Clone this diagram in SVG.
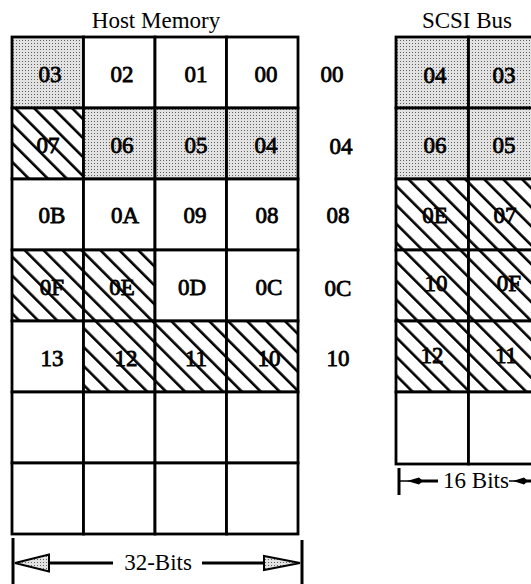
<svg xmlns="http://www.w3.org/2000/svg" width="531" height="584" viewBox="0 0 531 584">
<defs>
<pattern id="dots" width="3" height="3" patternUnits="userSpaceOnUse">
<rect width="3" height="3" fill="#e2e2e2"/>
<rect x="1" y="1" width="1" height="1" fill="#606060"/>
</pattern>
<pattern id="hatch" width="13.4" height="13.4" patternUnits="userSpaceOnUse" patternTransform="rotate(-45)">
<rect width="13.4" height="13.4" fill="#fff"/>
<rect x="0" y="0" width="2.6" height="13.4" fill="#000"/>
</pattern>
</defs>
<style>
.c{stroke:#000;stroke-width:2.8}
.w{fill:#fff}
.s{fill:url(#dots)}
.h{fill:url(#hatch)}
text{font-family:"Liberation Serif","Times New Roman",serif;font-size:23px;fill:#000;text-anchor:middle}
.n{stroke:#000;stroke-width:0.8}
.ln{stroke:#000;fill:none}
</style>
<rect width="531" height="584" fill="#fff"/>

<text id="title-host" x="156" y="28">Host Memory</text>
<text id="title-scsi" x="467" y="28">SCSI Bus</text>

<g id="h03"><rect class="c s" x="12" y="37" width="71.5" height="71"/><text class="n" x="50" y="82">03</text></g>
<g id="h02"><rect class="c w" x="83.5" y="37" width="71.5" height="71"/><text class="n" x="122" y="82">02</text></g>
<g id="h01"><rect class="c w" x="155" y="37" width="71.5" height="71"/><text class="n" x="196" y="82">01</text></g>
<g id="h00"><rect class="c w" x="226.5" y="37" width="71.5" height="71"/><text class="n" x="266" y="82">00</text></g>

<g id="h07"><rect class="c h" x="12" y="108" width="71.5" height="71"/><text class="n" x="48" y="153">07</text></g>
<g id="h06"><rect class="c s" x="83.5" y="108" width="71.5" height="71"/><text class="n" x="122" y="153">06</text></g>
<g id="h05"><rect class="c s" x="155" y="108" width="71.5" height="71"/><text class="n" x="196" y="153">05</text></g>
<g id="h04"><rect class="c s" x="226.5" y="108" width="71.5" height="71"/><text class="n" x="266" y="153">04</text></g>

<g id="h0B"><rect class="c w" x="12" y="179" width="71.5" height="71"/><text class="n" x="52" y="223">0B</text></g>
<g id="h0A"><rect class="c w" x="83.5" y="179" width="71.5" height="71"/><text class="n" x="125" y="223">0A</text></g>
<g id="h09"><rect class="c w" x="155" y="179" width="71.5" height="71"/><text class="n" x="195" y="223">09</text></g>
<g id="h08"><rect class="c w" x="226.5" y="179" width="71.5" height="71"/><text class="n" x="267" y="223">08</text></g>

<g id="h0F"><rect class="c h" x="12" y="250" width="71.5" height="71"/><text class="n" x="52" y="295">0F</text></g>
<g id="h0E"><rect class="c h" x="83.5" y="250" width="71.5" height="71"/><text class="n" x="122" y="295">0E</text></g>
<g id="h0D"><rect class="c w" x="155" y="250" width="71.5" height="71"/><text class="n" x="192" y="295">0D</text></g>
<g id="h0C"><rect class="c w" x="226.5" y="250" width="71.5" height="71"/><text class="n" x="269" y="295">0C</text></g>

<g id="h13"><rect class="c w" x="12" y="321" width="71.5" height="71"/><text class="n" x="52" y="366">13</text></g>
<g id="h12"><rect class="c h" x="83.5" y="321" width="71.5" height="71"/><text class="n" x="126" y="366">12</text></g>
<g id="h11"><rect class="c h" x="155" y="321" width="71.5" height="71"/><text class="n" x="196" y="366">11</text></g>
<g id="h10"><rect class="c h" x="226.5" y="321" width="71.5" height="71"/><text class="n" x="269" y="366">10</text></g>

<g id="h-r6c1"><rect class="c w" x="12" y="392" width="71.5" height="71"/></g>
<g id="h-r6c2"><rect class="c w" x="83.5" y="392" width="71.5" height="71"/></g>
<g id="h-r6c3"><rect class="c w" x="155" y="392" width="71.5" height="71"/></g>
<g id="h-r6c4"><rect class="c w" x="226.5" y="392" width="71.5" height="71"/></g>
<g id="h-r7c1"><rect class="c w" x="12" y="463" width="71.5" height="71"/></g>
<g id="h-r7c2"><rect class="c w" x="83.5" y="463" width="71.5" height="71"/></g>
<g id="h-r7c3"><rect class="c w" x="155" y="463" width="71.5" height="71"/></g>
<g id="h-r7c4"><rect class="c w" x="226.5" y="463" width="71.5" height="71"/></g>

<g id="addr">
<text class="n" x="332" y="82">00</text>
<text class="n" x="341" y="154">04</text>
<text class="n" x="338" y="223">08</text>
<text class="n" x="338" y="296">0C</text>
<text class="n" x="338" y="366">10</text>
</g>

<g id="s04"><rect class="c s" x="396" y="37" width="72.5" height="71"/><text class="n" x="435" y="83">04</text></g>
<g id="s03"><rect class="c s" x="468.5" y="37" width="72.5" height="71"/><text class="n" x="504" y="83">03</text></g>
<g id="s06"><rect class="c s" x="396" y="108" width="72.5" height="71"/><text class="n" x="435" y="153">06</text></g>
<g id="s05"><rect class="c s" x="468.5" y="108" width="72.5" height="71"/><text class="n" x="504" y="153">05</text></g>
<g id="s0E"><rect class="c h" x="396" y="179" width="72.5" height="71"/><text class="n" x="435" y="223">0E</text></g>
<g id="s07"><rect class="c h" x="468.5" y="179" width="72.5" height="71"/><text class="n" x="505" y="223">07</text></g>
<g id="s10"><rect class="c h" x="396" y="250" width="72.5" height="71"/><text class="n" x="436" y="291">10</text></g>
<g id="s0F"><rect class="c h" x="468.5" y="250" width="72.5" height="71"/><text class="n" x="509" y="291">0F</text></g>
<g id="s12"><rect class="c h" x="396" y="321" width="72.5" height="71"/><text class="n" x="432" y="363">12</text></g>
<g id="s11"><rect class="c h" x="468.5" y="321" width="72.5" height="71"/><text class="n" x="506" y="363">11</text></g>
<g id="s-r6c1"><rect class="c w" x="396" y="392" width="72.5" height="72"/></g>
<g id="s-r6c2"><rect class="c w" x="468.5" y="392" width="72.5" height="72"/></g>

<g id="connectors">
<line class="ln" x1="13" y1="538" x2="13" y2="584" stroke-width="3"/>
<line class="ln" x1="302" y1="540" x2="302" y2="584" stroke-width="3"/>
<line class="ln" x1="48" y1="563" x2="113" y2="563" stroke-width="3"/>
<line class="ln" x1="202" y1="563" x2="264" y2="563" stroke-width="3"/>
<polygon points="15,563 49,554.5 49,571.5" fill="url(#dots)" stroke="#000" stroke-width="2"/>
<polygon points="300,563 264,556 264,570" fill="url(#dots)" stroke="#000" stroke-width="2"/>

<line class="ln" x1="399" y1="468" x2="399" y2="495" stroke-width="3"/>
<line class="ln" x1="399" y1="481" x2="410" y2="481" stroke-width="1.5"/>
<polygon points="407,481 419,477.5 423,481 419,484.5" fill="#000"/>
<line class="ln" x1="421" y1="481" x2="438" y2="481" stroke-width="3"/>
<line class="ln" x1="509" y1="481" x2="516" y2="481" stroke-width="1.5"/>
<polygon points="513,481 524,477.5 528,481 524,484.5" fill="#000"/>
<line class="ln" x1="526" y1="481" x2="545" y2="481" stroke-width="3"/>
</g>
<text id="dim32" x="158" y="570">32-Bits</text>
<text id="dim16" x="476" y="488">16 Bits</text>
</svg>
